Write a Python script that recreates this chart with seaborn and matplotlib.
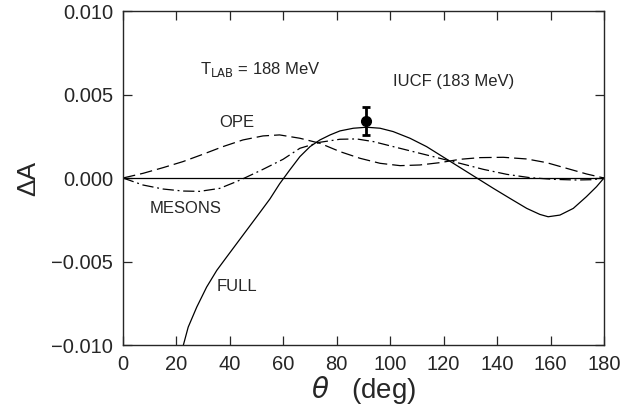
import pandas as pd
import seaborn as sns
import matplotlib
matplotlib.use("Agg")
import matplotlib.pyplot as plt
from matplotlib import font_manager

full_theta = [22.6, 24.4, 27.6, 31.3, 35.1, 38.8, 45, 51.3, 55, 58.6, 62.4, 66.2, 70,
              73.7, 77.5, 81.2, 86.2, 91.2, 96.2, 101.1, 107.4, 113.6, 118.6, 123.6,
              128.6, 132.4, 138.6, 144.8, 151.1, 156, 159.1, 163.5, 168.5, 173.4,
              177.2, 180]
full_dA = [-0.0100, -0.00893, -0.00773, -0.00653, -0.00553, -0.00473, -0.0034,
           -0.00205, -0.00125, -0.00035, 0.00048, 0.00128, 0.00188, 0.00228, 0.00258,
           0.00282, 0.00298, 0.00304, 0.00298, 0.00278, 0.00238, 0.00188, 0.00138,
           0.00088, 0.00038, 0.0, -0.00062, -0.00122, -0.00182, -0.00218, -0.00232,
           -0.00222, -0.00182, -0.00112, -0.00052, 0.0]

ope_theta = [0, 7.5, 15, 22.4, 29.9, 37.4, 44.9, 52.4, 58.6, 66.2, 73.7, 81.2, 88.7,
             96.2, 103.7, 111.1, 118.6, 126.1, 133.6, 142.3, 151.1, 158.5, 166,
             173.5, 180]
ope_dA = [0.0, 0.00028, 0.00062, 0.00098, 0.00142, 0.00188, 0.00228, 0.00252,
          0.00258, 0.00238, 0.00208, 0.00158, 0.00118, 0.00088, 0.00074, 0.00078,
          0.00092, 0.00112, 0.00122, 0.00124, 0.00114, 0.00092, 0.00058, 0.00024, 0.0]

mes_theta = [0, 7.5, 15, 22.4, 28.7, 36.2, 42.4, 45.5, 52.4, 59.9, 66.2, 73.7, 81.2,
             87.4, 93.7, 101.1, 108.6, 116.1, 120, 126.1, 134.8, 143.6, 152.3, 161,
             169.7, 175.9, 180]
mes_dA = [0.0, -0.00042, -0.00066, -0.00078, -0.0008, -0.00062, -0.00022, 0.0,
          0.00052, 0.00112, 0.00178, 0.00214, 0.00232, 0.00234, 0.00218, 0.00188,
          0.00158, 0.00128, 0.00112, 0.00088, 0.00052, 0.00022, 0.00002, -0.00008,
          -0.00012, -0.0001, 0.0]

iucf_theta = [91]
iucf_dA = [0.00342]
iucf_err = [0.00083]

sns.set_style("ticks")
plt.rcParams["font.family"] = ["Liberation Sans", "DejaVu Sans"]
plt.rcParams["xtick.direction"] = "in"
plt.rcParams["ytick.direction"] = "in"

# the labels in the original are set in a narrow face
label_font = dict(family=["Liberation Sans", "DejaVu Sans"], size=12)
for fam in ["Liberation Sans Narrow", "DejaVu Sans Condensed"]:
    try:
        path = font_manager.findfont(fam, fallback_to_default=False)
        label_font = dict(family=[fam, "DejaVu Sans"], size=14)
        break
    except Exception:
        pass

fig = plt.figure(figsize=(6.32, 4.12), dpi=100)
ax = fig.add_axes([0.1946, 0.1626, 0.7611, 0.8107])

full_df = pd.DataFrame({"theta": full_theta, "dA": full_dA})
ope_df = pd.DataFrame({"theta": ope_theta, "dA": ope_dA})
mes_df = pd.DataFrame({"theta": mes_theta, "dA": mes_dA})

ax.axhline(0, color="k", lw=0.9, zorder=1)
sns.lineplot(data=full_df, x="theta", y="dA", color="k", lw=0.9, ax=ax)
sns.lineplot(data=ope_df, x="theta", y="dA", color="k", lw=0.9, ax=ax,
             linestyle=(0, (10, 4)))
sns.lineplot(data=mes_df, x="theta", y="dA", color="k", lw=0.9, ax=ax,
             linestyle=(0, (9, 3, 1.5, 3)))
ax.errorbar(iucf_theta, iucf_dA, yerr=iucf_err, fmt="o", color="k",
            ms=7, elinewidth=2, capsize=3, capthick=2, zorder=5)

ax.set_xlim(0, 180)
ax.set_ylim(-0.010, 0.010)
ax.set_xticks(range(0, 181, 20))
ax.set_yticks([-0.010, -0.005, 0.0, 0.005, 0.010])
ax.set_yticklabels(["\u22120.010", "\u22120.005", "0.000", "0.005", "0.010"])
ax.tick_params(top=True, right=True, length=6.5, width=0.9, labelsize=14.5, pad=7)
for s in ax.spines.values():
    s.set_linewidth(1.0)

ax.set_xlabel(r"$\theta$   (deg)", fontsize=20, labelpad=0)
ax.set_ylabel("\u0394A", fontsize=19, labelpad=8)

ax.text(29, 0.0065, r"T$_{\rm LAB}$ = 188 MeV", va="center", **label_font)
ax.text(101, 0.0058, "IUCF (183 MeV)", va="center", **label_font)
ax.text(36, 0.0033, "OPE", va="center", **label_font)
ax.text(10, -0.0018, "MESONS", va="center", **label_font)
ax.text(35, -0.0065, "FULL", va="center", **label_font)

plt.savefig("out.png", dpi=100)
